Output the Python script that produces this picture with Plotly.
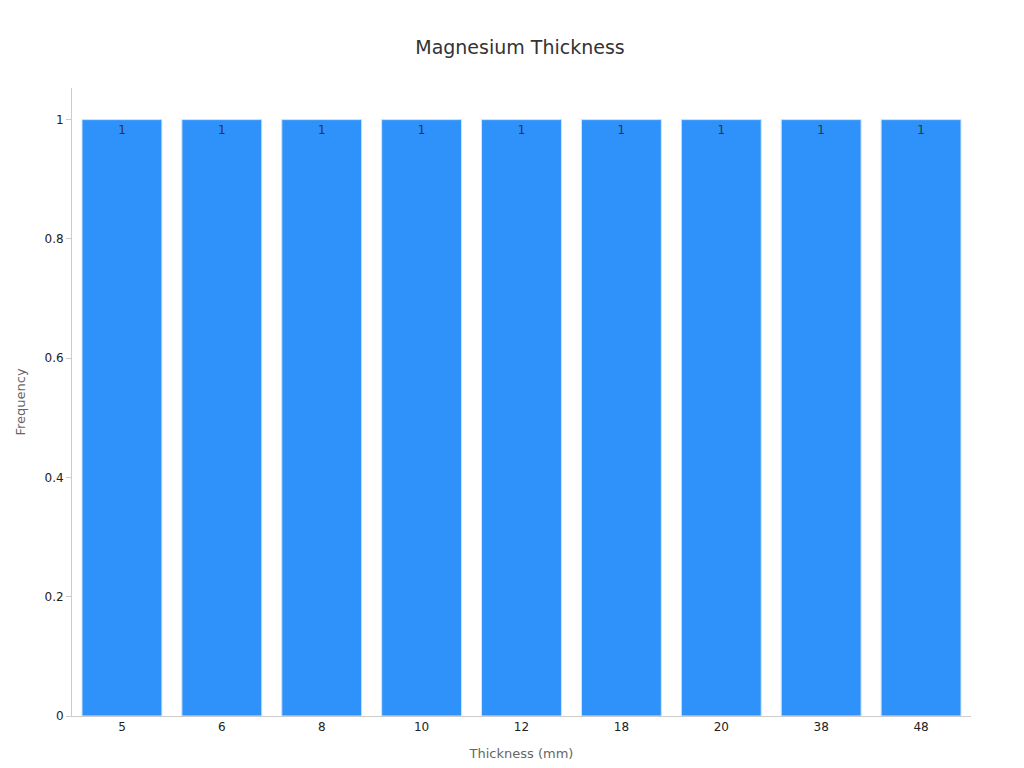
import plotly.graph_objects as go

thickness = ["5", "6", "8", "10", "12", "18", "20", "38", "48"]
frequency = [1, 1, 1, 1, 1, 1, 1, 1, 1]

fig = go.Figure()
fig.add_trace(go.Bar(
    x=thickness,
    y=frequency,
    text=frequency,
    textposition="inside",
    insidetextanchor="end",
    textfont=dict(color="#333333", size=12),
    marker=dict(color="#2e92fa", line=dict(color="#d0e4fb", width=1)),
))

fig.update_layout(
    width=1024, height=768,
    title=dict(text="Magnesium Thickness", x=0.5, y=0.957, xanchor="center",
               font=dict(size=19, color="#333333")),
    font=dict(family="DejaVu Sans", size=12, color="#222222"),
    plot_bgcolor="white", paper_bgcolor="white",
    margin=dict(l=64, r=61, t=80, b=60),
    bargap=0.2,
    showlegend=False,
)
fig.update_xaxes(
    title=dict(text="Thickness (mm)", font=dict(size=13, color="#666666")),
    type="category", showline=True, linecolor="#cccccc", ticks="", showgrid=False,
)
fig.update_yaxes(
    title=dict(text="Frequency", font=dict(size=13, color="#666666")),
    range=[0, 1.053], tickvals=[0, 0.2, 0.4, 0.6, 0.8, 1],
    ticktext=["0", "0.2", "0.4", "0.6", "0.8", "1"],
    showline=True, linecolor="#cccccc", ticks="outside", ticklen=5, tickcolor="#cccccc",
    showgrid=False, zeroline=False,
)

fig.write_html("out.html")
